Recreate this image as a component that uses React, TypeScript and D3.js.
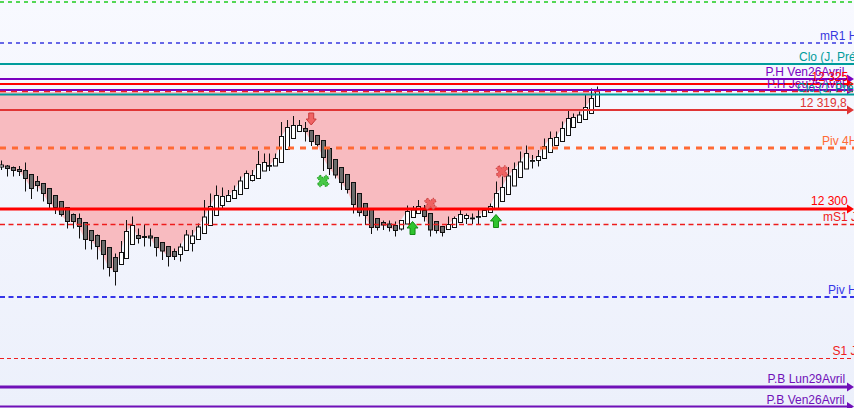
import React from 'react'
import * as d3 from 'd3'

// OHLC per bar (index 0 = leftmost visible bar)
const opens = [
  12308.4, 12308.6, 12308.3, 12307.9, 12307.7, 12306.9, 12305.5, 12305.1, 12304.1, 12302.7,
  12301.5, 12300.3, 12298.9, 12298.1, 12297.3, 12295.7, 12294.7, 12293.7, 12292.3, 12290.3,
  12288.9, 12290.1, 12292.9, 12294.7, 12294.5, 12294.6, 12294.3, 12293.3, 12292.5, 12291.5,
  12290.9, 12291.7, 12293.1, 12293.9, 12295.1, 12296.7, 12298.7, 12300.7, 12301.5, 12302.1,
  12302.9, 12304.1, 12305.7, 12306.1, 12307.6, 12308.7, 12308.6, 12309.3, 12311.9, 12314.1,
  12315.5, 12316.1, 12315.7, 12314.7, 12313.7, 12312.1, 12309.9, 12308.3, 12306.9, 12305.3,
  12303.1, 12301.1, 12299.9, 12298.1, 12297.3, 12297.0, 12296.7, 12296.0, 12297.0, 12298.3,
  12299.1, 12299.7, 12299.1, 12297.5, 12296.5, 12295.9, 12296.3, 12297.3, 12298.1, 12298.2,
  12298.5, 12298.5, 12299.3, 12300.0, 12301.5, 12302.9, 12304.6, 12306.3, 12308.0, 12309.7,
  12309.7, 12310.1, 12311.3, 12312.7, 12313.5, 12314.7, 12316.3, 12317.3, 12317.9, 12319.1,
  12320.5,
]
const highs = [
  12309.7, 12308.8, 12308.5, 12308.6, 12309.3, 12307.0, 12306.6, 12305.2, 12304.2, 12302.8,
  12301.6, 12300.4, 12299.1, 12299.1, 12297.4, 12295.8, 12294.9, 12293.8, 12292.4, 12291.1,
  12293.6, 12297.8, 12298.5, 12296.1, 12296.9, 12296.1, 12294.4, 12293.3, 12292.5, 12292.1,
  12293.1, 12295.8, 12295.8, 12297.1, 12301.8, 12303.1, 12304.7, 12304.3, 12303.8, 12304.7,
  12306.5, 12307.7, 12307.8, 12311.6, 12311.1, 12311.1, 12311.1, 12317.4, 12317.8, 12318.6,
  12317.8, 12317.4, 12315.7, 12314.8, 12313.7, 12312.2, 12310.0, 12308.4, 12307.0, 12305.4,
  12303.2, 12301.2, 12300.0, 12298.2, 12297.7, 12297.7, 12297.5, 12297.7, 12300.7, 12300.6,
  12301.8, 12300.8, 12299.2, 12297.6, 12296.6, 12298.5, 12298.5, 12299.8, 12299.1, 12299.1,
  12299.9, 12299.9, 12301.1, 12305.5, 12306.5, 12308.4, 12309.3, 12311.5, 12312.7, 12310.8,
  12311.8, 12314.1, 12315.5, 12315.5, 12317.5, 12319.6, 12319.1, 12319.5, 12322.8, 12324.1,
  12324.5,
]
const lows = [
  12307.8, 12306.5, 12306.5, 12306.6, 12303.5, 12302.0, 12303.5, 12301.5, 12300.1, 12299.0,
  12298.5, 12296.1, 12296.1, 12294.1, 12291.9, 12291.9, 12289.9, 12287.9, 12286.5, 12284.7,
  12288.9, 12290.1, 12292.9, 12293.1, 12292.5, 12292.5, 12290.5, 12289.8, 12288.5, 12289.8,
  12289.5, 12291.7, 12291.5, 12293.9, 12295.1, 12296.6, 12298.7, 12300.1, 12301.5, 12302.1,
  12302.9, 12304.1, 12305.5, 12306.1, 12307.6, 12307.6, 12308.6, 12309.3, 12311.9, 12314.1,
  12315.5, 12313.5, 12312.6, 12312.5, 12307.6, 12306.8, 12306.1, 12303.8, 12303.1, 12299.1,
  12298.5, 12296.8, 12295.0, 12295.7, 12295.8, 12295.5, 12294.5, 12295.7, 12297.0, 12298.3,
  12299.1, 12297.5, 12294.5, 12295.1, 12294.5, 12295.8, 12296.3, 12297.3, 12297.0, 12297.0,
  12297.0, 12298.4, 12299.2, 12300.0, 12301.4, 12302.8, 12304.6, 12306.3, 12308.0, 12308.1,
  12308.5, 12310.0, 12311.2, 12312.7, 12313.4, 12314.7, 12316.3, 12317.2, 12317.9, 12319.1,
  12320.4,
]
const closes = [
  12308.8, 12308.1, 12307.7, 12307.5, 12306.1, 12304.1, 12304.7, 12303.1, 12301.1, 12300.3,
  12298.9, 12297.5, 12297.5, 12296.5, 12293.9, 12293.7, 12292.5, 12290.9, 12288.3, 12287.5,
  12291.3, 12295.5, 12296.7, 12294.1, 12294.3, 12294.2, 12292.3, 12291.6, 12290.5, 12290.5,
  12292.4, 12294.8, 12294.6, 12296.4, 12298.4, 12300.5, 12302.7, 12302.5, 12302.7, 12303.7,
  12305.6, 12307.1, 12306.7, 12308.9, 12309.3, 12308.7, 12310.1, 12314.5, 12316.3, 12316.7,
  12316.7, 12315.5, 12313.5, 12312.9, 12310.3, 12308.1, 12306.8, 12305.3, 12303.9, 12300.9,
  12299.3, 12298.7, 12296.3, 12296.3, 12296.8, 12296.3, 12295.7, 12297.7, 12299.5, 12299.8,
  12300.5, 12298.5, 12295.8, 12295.7, 12295.3, 12296.9, 12298.1, 12298.9, 12298.7, 12298.2,
  12298.5, 12299.7, 12300.5, 12303.1, 12304.3, 12306.6, 12307.9, 12309.4, 12311.1, 12309.7,
  12310.5, 12312.5, 12314.1, 12314.3, 12316.1, 12318.1, 12318.3, 12318.8, 12320.3, 12322.1,
  12323.5,
]

// horizontal levels (name shown at right, price)
const levelNames = [
  'top', 'mR1 H', 'Clo (J, Pré', 'P.H Ven26Avril', '12 325', 'P.H Jeu25Avril', 'zone', 'Clo (J, Pré ',
  '12 319,8', 'Piv 4H', '12 300', 'mS1 J', 'Piv H', 'S1 J', 'P.B Lun29Avril', 'P.B Ven26Avril',
]
const levelPrices = [
  12341.4, 12333.2, 12329.0, 12326.0, 12325.0, 12323.8, 12323.5, 12322.9,
  12319.8, 12312.2, 12300.0, 12296.9, 12282.4, 12270.1, 12264.4, 12260.5,
]
const zoneTop = 12323.4

// signals: bar index + price at the marker
const signalKinds = ['down', 'greenX', 'up', 'redX', 'up', 'redX']
const signalBars = [52, 54, 69, 72, 83, 84]
const signalPrices = [12318.0, 12305.6, 12296.2, 12301.0, 12297.6, 12307.5]

type Style = { color: string; w: number; dash?: string; arrow?: boolean; tx: number | null; ty: number }
const styles: Record<string, Style> = {
  'top': { color: '#1fcc1f', w: 1.5, dash: '4,4', tx: null, ty: 0 },
  'mR1 H': { color: '#3838e0', w: 1.5, dash: '4,4', tx: 820, ty: -3.5 },
  'Clo (J, Pré': { color: '#009c9c', w: 2, tx: 799, ty: -3.5 },
  'P.H Ven26Avril': { color: '#7a00c0', w: 2.2, arrow: true, tx: 765.5, ty: -3.5 },
  '12 325': { color: '#ff0000', w: 2.2, arrow: true, tx: 811.5, ty: -3.5 },
  'P.H Jeu25Avril': { color: '#7a00c0', w: 2, arrow: true, tx: 767, ty: -2.5 },
  'zone': { color: '#ee2020', w: 1.6, dash: '6,5', tx: null, ty: 0 },
  'Clo (J, Pré ': { color: '#009c9c', w: 2, tx: 797, ty: -3 },
  '12 319,8': { color: '#e03535', w: 2, arrow: true, tx: 800, ty: -3.5 },
  'Piv 4H': { color: '#ff6a35', w: 2.8, dash: '6,6', tx: 822, ty: -3.5 },
  '12 300': { color: '#ff0000', w: 3, arrow: true, tx: 811, ty: -4 },
  'mS1 J': { color: '#ee1c1c', w: 1.4, dash: '5,3.5', tx: 823, ty: -4 },
  'Piv H': { color: '#3535e8', w: 2, dash: '5,3.5', tx: 828, ty: -3.5 },
  'S1 J': { color: '#ee2020', w: 1, dash: '4,3', tx: 832.5, ty: -4 },
  'P.B Lun29Avril': { color: '#7010b8', w: 3, arrow: true, tx: 767.5, ty: -4 },
  'P.B Ven26Avril': { color: '#7010b8', w: 2, arrow: true, tx: 766.5, ty: -3 },
}

const W = 854
const H = 408

export default function App() {
  const x = d3.scaleLinear().domain([0, closes.length - 1]).range([1.3, 597.3])
  const y = d3.scaleLinear().domain([12260.2, 12341.8]).range([H, 0])
  const idx = d3.range(closes.length)

  const zone = d3.area<number>()
    .x(i => (i === 0 ? 0 : x(i)))
    .y0(y(zoneTop))
    .y1(i => y(Math.min(closes[i], zoneTop)))(idx) || ''

  const crossPath = d3.symbol(d3.symbolCross, 85)() || ''
  const bw = 4

  return (
    <svg width={W} height={H} style={{ position: 'fixed', left: 0, top: 0, display: 'block' }}
      fontFamily="'Liberation Sans', Arial, sans-serif" fontSize={12}>
      <defs>
        <linearGradient id="bg" x1="0" y1="0" x2="0" y2="1">
          <stop offset="0" stopColor="#f8f9ff" />
          <stop offset="1" stopColor="#ecf0fb" />
        </linearGradient>
      </defs>
      <rect width={W} height={H} fill="url(#bg)" />
      <path d={zone} fill="#f8bbc0" />

      {/* candles */}
      {idx.map(i => {
        const up = closes[i] >= opens[i]
        const top = y(Math.max(opens[i], closes[i]))
        const bot = y(Math.min(opens[i], closes[i]))
        const cx = Math.round(x(i)) + 0.5
        return (
          <g key={i}>
            <line x1={cx} x2={cx} y1={y(highs[i])} y2={y(lows[i])} stroke="#111" strokeWidth={1} />
            <rect x={cx - bw / 2} y={top} width={bw} height={Math.max(bot - top, 0.8)}
              fill={up ? '#ffffff' : '#6c6c6c'} stroke="#111" strokeWidth={1} />
          </g>
        )
      })}

      {/* levels */}
      {levelNames.map((n, k) => {
        const s = styles[n]
        const ly = y(levelPrices[k])
        return (
          <g key={n}>
            <line x1={0} x2={s.arrow ? 848 : W} y1={ly} y2={ly} stroke={s.color} strokeWidth={s.w}
              strokeDasharray={s.dash} />
            {s.arrow && <path d={`M847,${ly - 4.5}L854,${ly}L847,${ly + 4.5}Z`} fill={s.color} />}
            {s.tx !== null && (
              <text x={s.tx} y={ly + s.ty} fill={s.color}>{n.trim()}</text>
            )}
          </g>
        )
      })}

      {/* signals */}
      {signalKinds.map((k, j) => {
        const sx = x(signalBars[j])
        const sy = y(signalPrices[j])
        if (k === 'down') {
          return <path key={j} transform={`translate(${sx},${sy})`}
            d="M-2.5,-6V0H-5L0,6L5,0H2.5V-6Z" fill="#f06464" stroke="#c83a3a" strokeWidth={1} />
        }
        if (k === 'up') {
          return <path key={j} transform={`translate(${sx},${sy})`}
            d="M0,-6.5L5.5,0H2.5V6.5H-2.5V0H-5.5Z" fill="#2fc42f" stroke="#148a14" strokeWidth={1} />
        }
        const green = k === 'greenX'
        return <path key={j} transform={`translate(${sx},${sy}) rotate(45)`} d={crossPath}
          fill={green ? '#46c846' : '#ee6262'} stroke={green ? '#1f9a1f' : '#c84040'}
          strokeWidth={1} strokeDasharray="1.5,1" strokeLinejoin="round" />
      })}
    </svg>
  )
}
